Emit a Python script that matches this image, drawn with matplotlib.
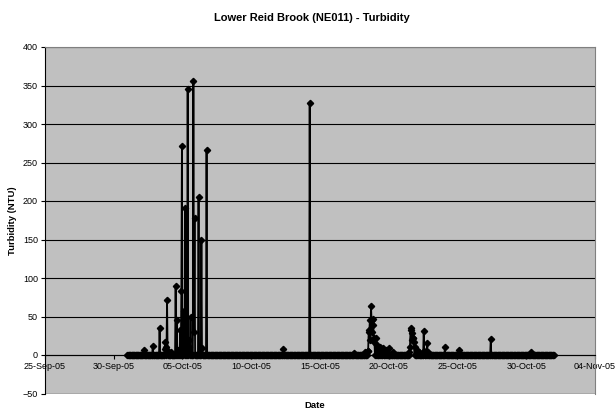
import matplotlib
matplotlib.use("Agg")
import matplotlib.pyplot as plt
import matplotlib.dates as mdates
import numpy as np
import pandas as pd

plt.rcParams["font.family"] = ["Liberation Sans", "DejaVu Sans"]

# Hourly record, 1-Oct-05 to 1-Nov-05; readings (all others ~0 NTU)
record_start = "2005-10-01 00:00"
record_end = "2005-11-01 00:00"

event_times = [
    "2005-10-02 04:00", "2005-10-02 20:00", "2005-10-03 08:00", "2005-10-03 17:00",
    "2005-10-03 18:00", "2005-10-03 19:00", "2005-10-03 21:00", "2005-10-03 22:00",
    "2005-10-04 04:00", "2005-10-04 12:00", "2005-10-04 14:00", "2005-10-04 17:00",
    "2005-10-04 20:00", "2005-10-04 22:00", "2005-10-04 23:00", "2005-10-05 02:00",
    "2005-10-05 03:00", "2005-10-05 05:00", "2005-10-05 07:00", "2005-10-05 09:00",
    "2005-10-05 11:00", "2005-10-05 12:00", "2005-10-05 14:00", "2005-10-05 19:00",
    "2005-10-05 20:00", "2005-10-05 21:00", "2005-10-06 04:00", "2005-10-06 09:00",
    "2005-10-06 10:00", "2005-10-06 18:00", "2005-10-12 08:00", "2005-10-14 06:00",
    "2005-10-17 12:00", "2005-10-18 06:00", "2005-10-18 11:00", "2005-10-18 12:00",
    "2005-10-18 13:00", "2005-10-18 14:00", "2005-10-18 15:00", "2005-10-18 16:00",
    "2005-10-18 17:00", "2005-10-18 18:00", "2005-10-18 19:00", "2005-10-18 20:00",
    "2005-10-18 21:00", "2005-10-18 22:00", "2005-10-18 23:00", "2005-10-19 02:00",
    "2005-10-19 04:00", "2005-10-19 08:00", "2005-10-19 11:00", "2005-10-19 14:00",
    "2005-10-19 17:00", "2005-10-19 20:00", "2005-10-20 01:00", "2005-10-20 07:00",
    "2005-10-21 12:00", "2005-10-21 13:00", "2005-10-21 14:00", "2005-10-21 15:00",
    "2005-10-21 16:00", "2005-10-21 17:00", "2005-10-21 18:00", "2005-10-21 19:00",
    "2005-10-21 20:00", "2005-10-21 22:00", "2005-10-22 01:00", "2005-10-22 04:00",
    "2005-10-22 13:00", "2005-10-22 14:00", "2005-10-22 19:00", "2005-10-22 20:00",
    "2005-10-24 02:00", "2005-10-25 02:00", "2005-10-27 10:00", "2005-10-30 08:00",
]
event_values = [
    6, 12, 35, 8,
    17, 10, 72, 5,
    4, 90, 45, 6,
    33, 83, 272, 57,
    12, 191, 8, 346,
    20, 10, 50, 356,
    30, 178, 205, 149,
    9, 266, 8, 327,
    3, 4, 5, 5,
    32, 30, 45, 19,
    64, 45, 30, 47,
    39, 22, 17, 22,
    13, 10, 8, 9,
    5, 7, 9, 4,
    4, 11, 32, 35,
    19, 28, 22, 22,
    17, 11, 6, 4,
    31, 5, 16, 4,
    10, 6, 21, 4,
]

y_ticks = list(range(-50, 401, 50))
x_tick_dates = ["2005-09-25", "2005-09-30", "2005-10-05", "2005-10-10", "2005-10-15",
                "2005-10-20", "2005-10-25", "2005-10-30", "2005-11-04"]

times = pd.date_range(record_start, record_end, freq="h")
turbidity = pd.Series(0.0, index=times)
turbidity.loc[pd.to_datetime(event_times)] = event_values

fig = plt.figure(figsize=(6.15, 4.13), dpi=100)
ax = fig.add_axes([45 / 615, 1 - 393.5 / 413, 550 / 615, (393.5 - 47) / 413])
ax.set_facecolor("#C0C0C0")

ax.plot(turbidity.index, turbidity.values, color="black", linewidth=1.3,
        marker="D", markersize=3.2, markerfacecolor="black", markeredgecolor="black")

ax.set_ylim(-50, 400)
ax.set_yticks(y_ticks)
ax.set_xlim(pd.Timestamp(x_tick_dates[0]), pd.Timestamp(x_tick_dates[-1]))
ax.set_xticks(pd.to_datetime(x_tick_dates))
ax.xaxis.set_major_formatter(mdates.DateFormatter("%d-%b-%y"))

ax.yaxis.grid(True, color="black", linewidth=0.8)
ax.set_axisbelow(True)

# category axis crosses at zero, as in Excel
ax.spines["bottom"].set_position(("data", 0))
ax.spines["bottom"].set_color("black")
ax.spines["left"].set_color("black")
for s in ["top", "right"]:
    ax.spines[s].set_color("#808080")
ax.axhline(-50, color="#808080", linewidth=1.0, zorder=0.5)

ax.tick_params(axis="both", labelsize=6.5, direction="out", length=3, width=0.8, pad=2)

fig.text(0.507, 1 - 18 / 413, "Lower Reid Brook (NE011) - Turbidity", fontsize=8,
         fontweight="bold", ha="center", va="center")
ax.set_ylabel("Turbidity (NTU)", fontsize=6.8, fontweight="bold", labelpad=4)
fig.text(0.512, 1 - 405 / 413, "Date", fontsize=6.8, fontweight="bold", ha="center", va="center")

fig.savefig("out.png", dpi=100, facecolor="white")
